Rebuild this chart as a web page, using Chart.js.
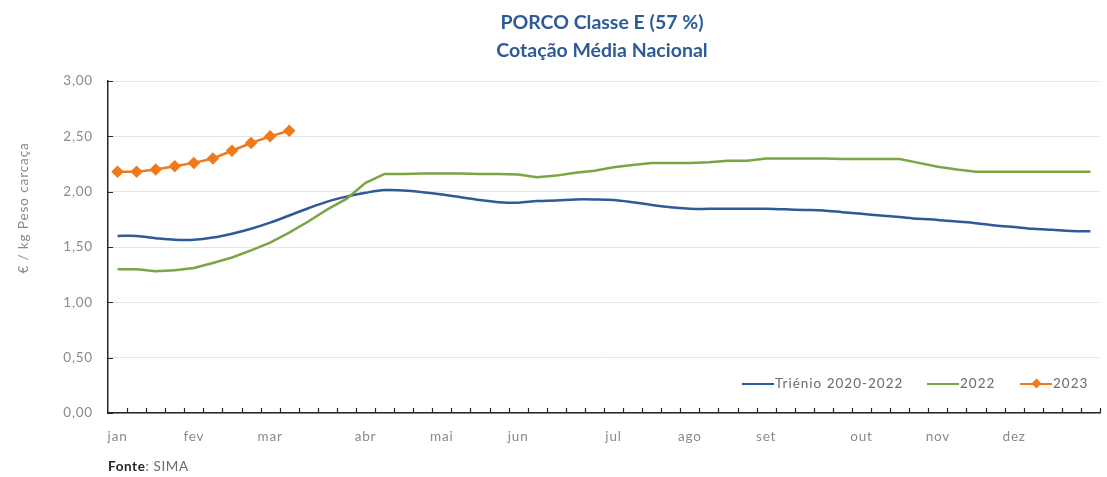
<!DOCTYPE html>
<html>
<head>
<meta charset="utf-8">
<script src="https://cdn.jsdelivr.net/npm/chart.js@4.4.0/dist/chart.umd.min.js"></script>
<style>
  html, body { margin: 0; padding: 0; background: #ffffff; }
  #wrap { position: relative; width: 1107px; height: 477px; overflow: hidden; font-family: Lato, "Open Sans", sans-serif; }
  #c { position: absolute; left: 0; top: 0; }
  #title { position: absolute; left: 352px; width: 500px; top: 8px; text-align: center; color: #2E5A98; font-weight: bold; font-size: 19.5px; line-height: 28px; }
  #legend { position: absolute; top: 374px; left: 0; width: 1107px; height: 18px; color: #6b6b6b; font-size: 13.5px; letter-spacing: 1px; }
  .li { position: absolute; top: 0; height: 18px; line-height: 18px; white-space: nowrap; }
  .ln { position: absolute; top: 8.5px; height: 2.5px; }
  .dm { position: absolute; width: 7px; height: 7px; transform: rotate(45deg); }
  #fonte { position: absolute; left: 108px; top: 458px; font-size: 13.5px; letter-spacing: 0.6px; color: #6b6b6b; }
  #fonte b { color: #262626; }
</style>
</head>
<body>
<div id="wrap">
  <canvas id="c" width="1107" height="477"></canvas>
  <div id="title">PORCO Classe E (57 %)<br>Cotação Média Nacional</div>
  <div id="legend"></div>
  <div id="fonte"><b>Fonte</b>: SIMA</div>
</div>
<script>
// ---- data ----
const monthNames = ["jan","fev","mar","abr","mai","jun","jul","ago","set","out","nov","dez"];
const monthStartWeek = [0,4,8,13,17,21,26,30,34,39,43,47];
const weekCount = 52;
const yTickValues = [0, 0.5, 1, 1.5, 2, 2.5, 3];
const yAxisTitle = "€ / kg Peso carcaça";

const trienio = [1.60,1.60,1.58,1.565,1.565,1.585,1.62,1.665,1.72,1.785,1.85,1.91,1.955,1.99,2.015,2.01,
  1.995,1.975,1.95,1.925,1.905,1.90,1.915,1.92,1.93,1.93,1.925,1.905,1.88,1.86,1.845,1.845,1.845,1.845,
  1.845,1.84,1.835,1.83,1.815,1.80,1.785,1.77,1.755,1.745,1.73,1.715,1.695,1.68,1.665,1.655,1.645,1.642];
const ano2022 = [1.30,1.30,1.28,1.29,1.31,1.355,1.405,1.47,1.54,1.63,1.73,1.84,1.935,2.08,2.16,2.16,
  2.165,2.165,2.165,2.16,2.16,2.155,2.13,2.145,2.17,2.19,2.22,2.24,2.26,2.26,2.26,2.265,2.28,2.28,
  2.30,2.30,2.30,2.30,2.295,2.295,2.295,2.295,2.26,2.225,2.20,2.18,2.18,2.18,2.18,2.18,2.18,2.18];
const ano2023 = [2.18,2.18,2.20,2.23,2.26,2.30,2.37,2.44,2.50,2.55];

const seriesNames = ["Triénio 2020-2022", "2022", "2023"];
const seriesColors = ["#2E5A98", "#7BA443", "#EE7A1E"];

// ---- build ----
const labels = [];
for (let i = 0; i < weekCount; i++) {
  const m = monthStartWeek.indexOf(i);
  labels.push(m >= 0 ? monthNames[m] : "");
}

const spacing = {
  id: 'spacing',
  beforeDraw(chart) { chart.ctx.letterSpacing = '0.8px'; },
  afterDraw(chart) { chart.ctx.letterSpacing = '0px'; }
};

const yTitlePlugin = {
  id: 'yTitlePlugin',
  afterDraw(chart) {
    const ctx = chart.ctx;
    ctx.save();
    ctx.letterSpacing = '0.9px';
    ctx.translate(24, 208);
    ctx.rotate(-Math.PI / 2);
    ctx.fillStyle = '#8A8A8A';
    ctx.font = '13.5px Lato, "Open Sans", sans-serif';
    ctx.textAlign = 'center';
    ctx.textBaseline = 'middle';
    ctx.fillText(yAxisTitle, 0, 0);
    ctx.restore();
  }
};

const tickMarks = {
  id: 'tickMarks',
  afterDraw(chart) {
    const {ctx, chartArea} = chart;
    const xs = chart.scales.x, ys = chart.scales.y;
    ctx.save();
    ctx.strokeStyle = '#262626';
    ctx.lineWidth = 1.2;
    ctx.beginPath();
    const step = (xs.right - xs.left) / weekCount;
    for (let i = 1; i <= weekCount; i++) {
      const x = Math.round(xs.left + i * step) + 0.5;
      ctx.moveTo(x, chartArea.bottom);
      ctx.lineTo(x, chartArea.bottom - 5);
    }
    ys.ticks.forEach(t => {
      const y = Math.round(ys.getPixelForValue(t.value)) + 0.5;
      ctx.moveTo(chartArea.left, y);
      ctx.lineTo(chartArea.left + 5, y);
    });
    ctx.stroke();
    ctx.restore();
  }
};

const tickFont = { family: 'Lato, "Open Sans", sans-serif', size: 13.5 };

const chart = new Chart(document.getElementById('c'), {
  type: 'line',
  data: {
    labels: labels,
    datasets: [
      { label: seriesNames[0], data: trienio, borderColor: seriesColors[0], backgroundColor: seriesColors[0],
        borderWidth: 2.5, pointRadius: 0, tension: 0.35, order: 3 },
      { label: seriesNames[1], data: ano2022, borderColor: seriesColors[1], backgroundColor: seriesColors[1],
        borderWidth: 2.5, pointRadius: 0, tension: 0, order: 2 },
      { label: seriesNames[2], data: ano2023, borderColor: seriesColors[2], backgroundColor: seriesColors[2],
        borderWidth: 2.5, pointRadius: 4.5, pointStyle: 'rectRot', tension: 0, order: 1 }
    ]
  },
  options: {
    responsive: false,
    animation: false,
    devicePixelRatio: 1,
    layout: { padding: { top: 81, right: 0, bottom: 0, left: 0 } },
    plugins: { legend: { display: false }, title: { display: false }, tooltip: { enabled: false } },
    scales: {
      x: {
        type: 'category',
        offset: true,
        grid: { display: false, drawTicks: false },
        border: { display: true, color: '#262626', width: 1.5 },
        ticks: { autoSkip: false, maxRotation: 0, padding: 16, color: '#8A8A8A', font: tickFont },
        afterFit(s) { s.height = 64; }
      },
      y: {
        min: 0, max: 3,
        afterBuildTicks(s) { s.ticks = yTickValues.map(v => ({ value: v })); },
        grid: { color: '#E6E6E6', lineWidth: 1, drawTicks: false },
        border: { display: true, color: '#262626', width: 1.5 },
        ticks: { padding: 15, color: '#8A8A8A', font: tickFont,
                 callback: v => Number(v).toFixed(2).replace('.', ',') },
        afterFit(s) { s.width = 108; }
      }
    }
  },
  plugins: [spacing, tickMarks, yTitlePlugin]
});

// ---- HTML legend from dataset names/colours ----
const legend = document.getElementById('legend');
const legendPos = [742, 927, 1020];
seriesNames.forEach((name, i) => {
  const item = document.createElement('div');
  item.className = 'li';
  item.style.left = legendPos[i] + 'px';
  item.style.paddingLeft = '33px';
  const ln = document.createElement('div');
  ln.className = 'ln';
  ln.style.left = '0px'; ln.style.width = '32px'; ln.style.background = seriesColors[i];
  item.appendChild(ln);
  if (i === 2) {
    const dm = document.createElement('div');
    dm.className = 'dm';
    dm.style.left = '12.5px'; dm.style.top = '6px'; dm.style.background = seriesColors[i];
    item.appendChild(dm);
  }
  item.appendChild(document.createTextNode(name));
  legend.appendChild(item);
});
</script>
</body>
</html>
